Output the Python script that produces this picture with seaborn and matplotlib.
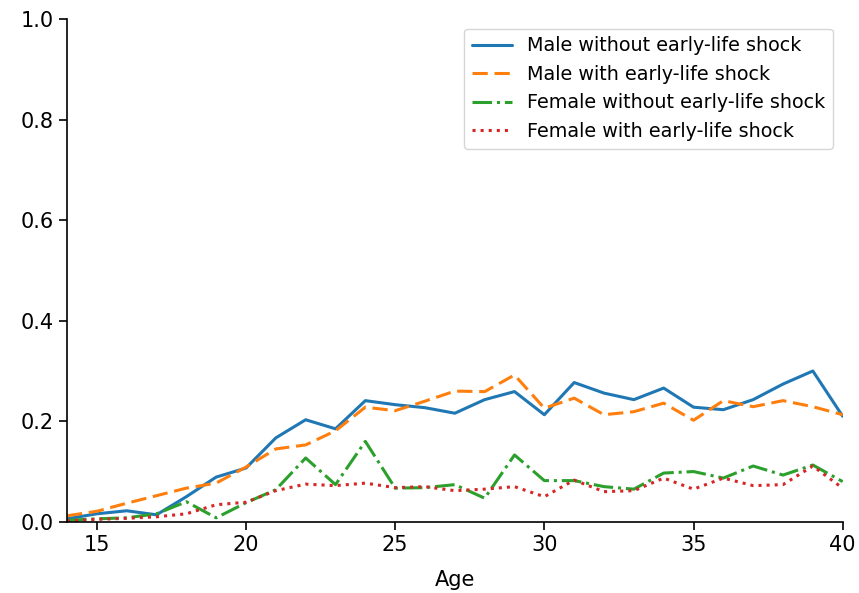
import numpy as np
import pandas as pd
import matplotlib
matplotlib.use("Agg")
import matplotlib.pyplot as plt
import seaborn as sns

# ── Data ─────────────────────────────────────────────────────
ages = list(range(14, 41))

male_no_shock = [0.006, 0.016, 0.022, 0.014, 0.050, 0.089, 0.107, 0.167, 0.203,
                 0.185, 0.241, 0.233, 0.227, 0.216, 0.243, 0.259, 0.213, 0.277,
                 0.256, 0.243, 0.266, 0.228, 0.223, 0.243, 0.274, 0.300, 0.210]
male_shock = [0.012, 0.021, 0.037, 0.052, 0.067, 0.077, 0.109, 0.145, 0.153,
              0.181, 0.228, 0.221, 0.240, 0.260, 0.259, 0.292, 0.226, 0.246,
              0.213, 0.219, 0.236, 0.202, 0.241, 0.229, 0.241, 0.229, 0.213]
female_no_shock = [0.003, 0.006, 0.008, 0.016, 0.040, 0.008, 0.038, 0.064, 0.127,
                   0.074, 0.160, 0.067, 0.068, 0.074, 0.047, 0.133, 0.082, 0.082,
                   0.070, 0.065, 0.097, 0.100, 0.087, 0.111, 0.093, 0.113, 0.080]
female_shock = [0.002, 0.005, 0.007, 0.010, 0.016, 0.034, 0.039, 0.062, 0.075,
                0.072, 0.077, 0.068, 0.070, 0.062, 0.065, 0.070, 0.050, 0.083,
                0.060, 0.062, 0.087, 0.065, 0.087, 0.072, 0.074, 0.111, 0.067]

labels = ["Male without early-life shock", "Male with early-life shock",
          "Female without early-life shock", "Female with early-life shock"]
series = [male_no_shock, male_shock, female_no_shock, female_shock]
colors = ["#1f77b4", "#ff7f0e", "#2ca02c", "#d62728"]
dash_patterns = [None, (5, 2.2), (6.4, 1.6, 1, 1.6), (1, 1.65)]

# ── Plot ─────────────────────────────────────────────────────
sns.set_style("ticks")
plt.rcParams["font.family"] = ["DejaVu Sans"]
for key in ["text.color", "axes.labelcolor", "xtick.color", "ytick.color",
            "axes.edgecolor"]:
    plt.rcParams[key] = "black"

fig, ax = plt.subplots(figsize=(8.59, 5.93), dpi=100)
fig.subplots_adjust(left=0.078, right=0.981, top=0.968, bottom=0.12)

for lab, vals, col, dp in zip(labels, series, colors, dash_patterns):
    df = pd.DataFrame({"Age": ages, "value": vals})
    line_ax = sns.lineplot(data=df, x="Age", y="value", ax=ax, color=col,
                           linewidth=2.2, label=lab)
    if dp is not None:
        line_ax.lines[-1].set_dashes(dp)

ax.set_xlim(14, 40)
ax.set_ylim(0, 1.0)
ax.set_xticks([15, 20, 25, 30, 35, 40])
ax.set_yticks([0.0, 0.2, 0.4, 0.6, 0.8, 1.0])
ax.set_xlabel("Age", fontsize=15, labelpad=11)
ax.set_ylabel("")
ax.tick_params(labelsize=15, length=6, width=1.2)
for s in ["left", "bottom"]:
    ax.spines[s].set_linewidth(1.2)
sns.despine(ax=ax)

ax.legend(loc="upper right", fontsize=13.8, frameon=True, handlelength=2.1,
          borderaxespad=0.5)

plt.savefig("out.png", dpi=100)
